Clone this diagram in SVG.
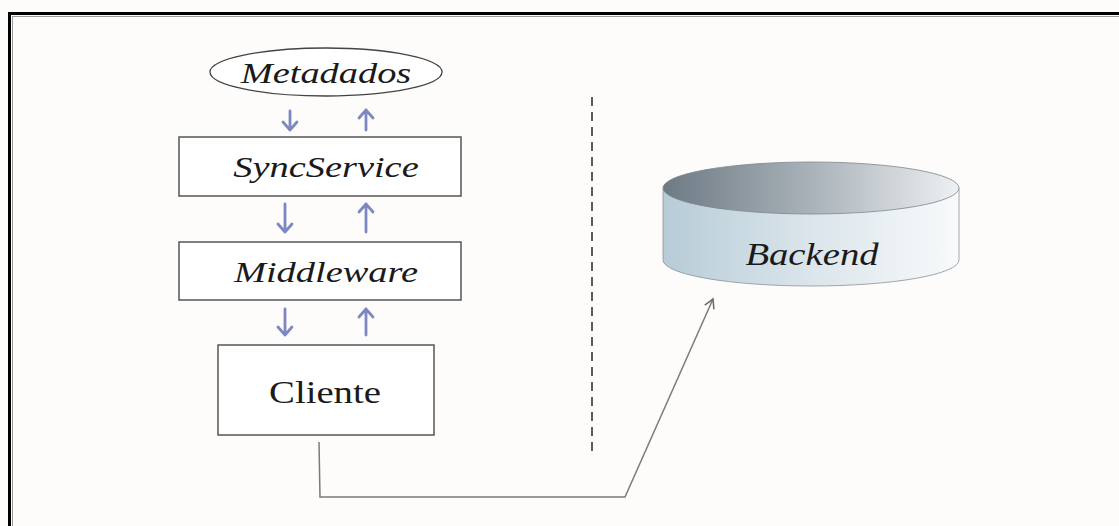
<svg xmlns="http://www.w3.org/2000/svg" width="1119" height="526" viewBox="0 0 1119 526">
  <style>
    .box { fill: #ffffff; stroke: #555555; stroke-width: 1.5; }
    .lbl { font-family: "Liberation Serif", "Times New Roman", serif; fill: #1a1a1a; text-anchor: middle; }
    .it { font-style: italic; }
    .flow { stroke: #7d88c2; stroke-width: 2.8; fill: none; stroke-linecap: round; stroke-linejoin: round; }
    .link { stroke: #7a7a7a; stroke-width: 1.5; fill: none; }
  </style>
  <defs>
    <linearGradient id="capTop" x1="0" y1="0" x2="1" y2="0">
      <stop offset="0" stop-color="#6d7a84"/>
      <stop offset="0.5" stop-color="#a9b2b9"/>
      <stop offset="1" stop-color="#eef0f2"/>
    </linearGradient>
    <linearGradient id="capSide" x1="0" y1="0" x2="1" y2="0">
      <stop offset="0" stop-color="#b7ccd7"/>
      <stop offset="0.5" stop-color="#dbe5eb"/>
      <stop offset="1" stop-color="#f8fafb"/>
    </linearGradient>
    <marker id="openHead" viewBox="0 0 12 12" refX="10" refY="6" markerWidth="12" markerHeight="12" markerUnits="userSpaceOnUse" orient="auto">
      <path d="M1,1 L10,6 L1,11" fill="none" stroke="#6e6e6e" stroke-width="1.6"/>
    </marker>
  </defs>

  <!-- page -->
  <rect x="0" y="0" width="1119" height="526" fill="#fdfcfb"/>
  <rect x="9.5" y="13.5" width="1120" height="520" fill="none" stroke="#000000" stroke-width="3"/>
  <rect x="12.5" y="16.5" width="1120" height="520" fill="none" stroke="#9a9a9a" stroke-width="1"/>

  <!-- separator -->
  <line x1="592" y1="97" x2="592" y2="452" stroke="#333333" stroke-width="1.6" stroke-dasharray="9,6"/>

  <!-- labels are drawn at the origin and widened with a horizontal scale -->
  <g id="metadados">
    <ellipse cx="326" cy="72" rx="116" ry="24" fill="#ffffff" stroke="#444444" stroke-width="1.3"/>
    <text class="lbl it" font-size="30" transform="translate(326,83) scale(1.28,1)">Metadados</text>
  </g>

  <g id="syncservice">
    <rect class="box" x="179" y="137" width="282" height="59"/>
    <text class="lbl it" font-size="30" transform="translate(326,177) scale(1.28,1)">SyncService</text>
  </g>

  <g id="middleware">
    <rect class="box" x="179" y="242" width="282" height="58"/>
    <text class="lbl it" font-size="30" transform="translate(326,282) scale(1.28,1)">Middleware</text>
  </g>

  <g id="cliente">
    <rect class="box" x="218" y="345" width="216" height="90"/>
    <text class="lbl" font-size="31" transform="translate(325,403) scale(1.25,1)">Cliente</text>
  </g>

  <g id="backend">
    <path d="M663,188 L663,260 A148,26 0 0 0 959,260 L959,188 Z" fill="url(#capSide)" stroke="#8a9298" stroke-width="0.8"/>
    <ellipse cx="811" cy="188" rx="148" ry="26" fill="url(#capTop)" stroke="#7d868c" stroke-width="0.8"/>
    <text class="lbl it" font-size="32" transform="translate(812,265) scale(1.21,1)">Backend</text>
  </g>

  <g id="connectors">
    <!-- vertical flow arrows between layers -->
    <path class="flow" d="M290,111 L290,130 M283,122 L290,130 L297,122"/>
    <path class="flow" d="M366,130 L366,110 M359,118 L366,110 L373,118"/>
    <path class="flow" d="M285,204 L285,232 M278,224 L285,232 L292,224"/>
    <path class="flow" d="M366,232 L366,204 M359,212 L366,204 L373,212"/>
    <path class="flow" d="M285,309 L285,335 M278,327 L285,335 L292,327"/>
    <path class="flow" d="M366,335 L366,309 M359,317 L366,309 L373,317"/>
    <!-- client to backend -->
    <path class="link" d="M319,442 L320,497 L625,497 L713,299" marker-end="url(#openHead)"/>
  </g>
</svg>
